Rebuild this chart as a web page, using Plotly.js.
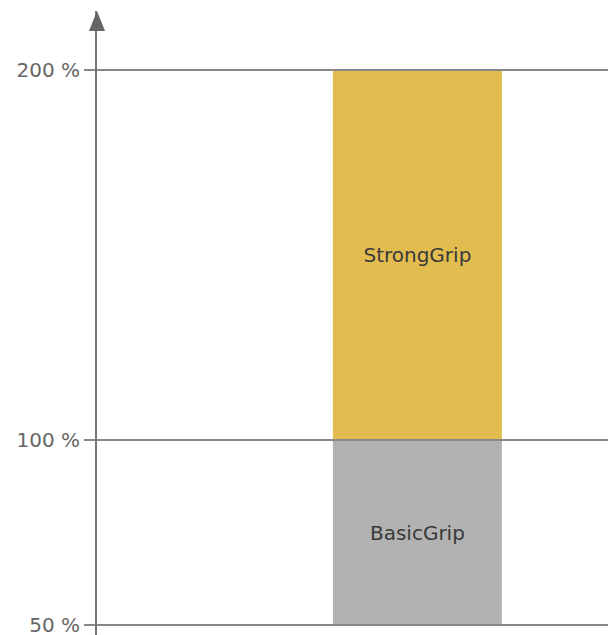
<!DOCTYPE html>
<html>
<head>
<meta charset="utf-8">
<script src="https://cdn.plot.ly/plotly-3.0.1.min.js"></script>
<style>html,body{margin:0;padding:0;background:#fff;}#chart{width:608px;height:635px;}</style>
</head>
<body>
<div id="chart"></div>
<script>
// Data
const category = ['Grip'];
const seriesNames = ['BasicGrip', 'StrongGrip'];
const seriesBase = [50, 100];
const seriesValue = [50, 100];
const seriesColors = ['#b2b2b2', '#e2bc4f'];
const tickValues = [50, 100, 200];
const tickLabels = ['50 %', '100 %', '200 %'];

const traces = seriesNames.map((name, i) => ({
  type: 'bar',
  name: name,
  x: category,
  y: [seriesValue[i]],
  base: [seriesBase[i]],
  width: 1,
  marker: {color: seriesColors[i], line: {width: 0}},
  text: [name],
  textposition: 'inside',
  insidetextanchor: 'middle',
  textangle: 0,
  textfont: {family: 'DejaVu Sans, sans-serif', size: 20, color: '#3a3a3a'},
  hoverinfo: 'skip'
}));

const gridShapes = tickValues.map(v => ({
  type: 'line', xref: 'paper', yref: 'y',
  x0: 0, x1: 1, y0: v, y1: v,
  line: {color: '#888888', width: 2},
  layer: 'above'
}));

const arrowShape = {
  type: 'path', xref: 'paper', yref: 'paper',
  path: 'M -0.0157 0.968 L 0 1 L 0.0157 0.968 Z',
  fillcolor: '#666666', line: {width: 0}, layer: 'above'
};

const layout = {
  width: 608, height: 635,
  margin: {l: 97, r: 0, t: 11, b: 0, pad: 0},
  paper_bgcolor: '#ffffff', plot_bgcolor: '#ffffff',
  showlegend: false,
  barmode: 'overlay',
  xaxis: {
    type: 'category',
    range: [-1.896, 1.128],
    showgrid: false, zeroline: false, showline: false,
    showticklabels: false, ticks: '', fixedrange: true
  },
  yaxis: {
    range: [47.3, 215.95],
    tickvals: tickValues,
    ticktext: tickLabels,
    ticklabeloverflow: 'allow',
    showgrid: false, zeroline: false,
    showline: true, linecolor: '#777777', linewidth: 2,
    ticks: 'outside', ticklen: 11, tickwidth: 2, tickcolor: '#888888',
    tickfont: {family: 'DejaVu Sans, sans-serif', size: 20, color: '#666666'},
    layer: 'above traces',
    fixedrange: true
  },
  shapes: gridShapes.concat([arrowShape])
};

Plotly.newPlot('chart', traces, layout, {displayModeBar: false, staticPlot: true});
</script>
</body>
</html>
